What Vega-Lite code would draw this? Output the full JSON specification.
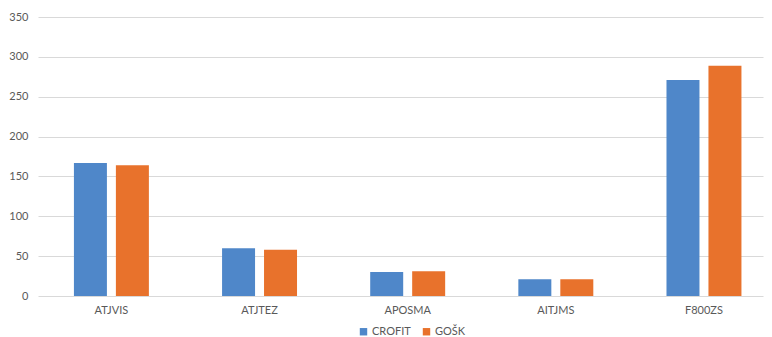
{
  "$schema": "https://vega.github.io/schema/vega-lite/v6.json",
  "width": 725,
  "height": 279,
  "autosize": {"type": "none"},
  "padding": {"left": 38, "top": 17, "right": 9, "bottom": 41},
  "background": "white",
  "config": {
    "view": {"stroke": null},
    "font": "Lato",
    "axis": {"labelFont": "Lato", "labelColor": "#595959", "labelFontSize": 11}
  },
  "data": {
    "values": [
      {"cat": "ATJVIS", "series": "CROFIT", "v": 167},
      {"cat": "ATJVIS", "series": "GOŠK", "v": 164},
      {"cat": "ATJTEZ", "series": "CROFIT", "v": 60},
      {"cat": "ATJTEZ", "series": "GOŠK", "v": 58},
      {"cat": "APOSMA", "series": "CROFIT", "v": 30},
      {"cat": "APOSMA", "series": "GOŠK", "v": 31},
      {"cat": "AITJMS", "series": "CROFIT", "v": 21},
      {"cat": "AITJMS", "series": "GOŠK", "v": 21},
      {"cat": "F800ZS", "series": "CROFIT", "v": 271},
      {"cat": "F800ZS", "series": "GOŠK", "v": 289}
    ]
  },
  "mark": {"type": "bar"},
  "encoding": {
    "x": {
      "field": "cat", "type": "nominal", "sort": null,
      "scale": {"paddingInner": 0.494, "paddingOuter": 0.194, "align": 0.625},
      "axis": {"title": null, "labelAngle": 0, "ticks": false, "domain": false, "labelPadding": 8}
    },
    "xOffset": {"field": "series", "type": "nominal", "scale": {"paddingInner": 0.214, "paddingOuter": 0}},
    "y": {
      "field": "v", "type": "quantitative",
      "scale": {"domain": [0, 350]},
      "axis": {"title": null, "values": [0,50,100,150,200,250,300,350], "ticks": false, "domain": false, "gridColor": "#d9d9d9", "labelPadding": 10}
    },
    "color": {
      "field": "series", "type": "nominal",
      "scale": {"domain": ["CROFIT", "GOŠK"], "range": ["#4f87c9", "#e8722c"]},
      "legend": {"title": null, "orient": "none", "legendX": 320, "legendY": 309, "direction": "horizontal", "symbolType": "square", "symbolSize": 55, "labelFont": "Lato", "labelFontSize": 11, "labelColor": "#595959", "columnPadding": 10, "labelOffset": 3, "symbolStrokeWidth": 0}
    }
  }
}
